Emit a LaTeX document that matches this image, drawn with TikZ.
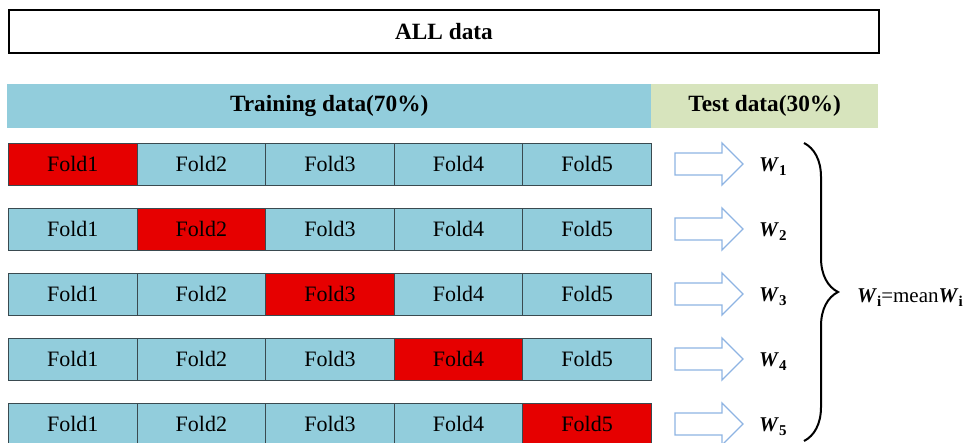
\documentclass[tikz,border=0pt]{standalone}
\usepackage{fontspec}
\setmainfont{Liberation Serif}
\usetikzlibrary{decorations.pathreplacing}
\definecolor{trainblue}{HTML}{92CDDC}
\definecolor{testgreen}{HTML}{D7E4BD}
\definecolor{foldred}{HTML}{E60000}
\definecolor{arrowblue}{HTML}{8EB4E3}
\definecolor{celledge}{HTML}{3A4A50}
\tikzset{
  cellbox/.style={draw=celledge, line width=0.9pt, minimum width=128.6pt, minimum height=42pt, inner sep=0pt, font=\fontsize{22}{25}\selectfont, anchor=north west},
  bandbox/.style={minimum height=44pt, inner sep=0pt, font=\fontsize{23.3}{26}\selectfont\bfseries, anchor=north west},
  blockarrow/.style={draw=arrowblue, line width=1.3pt, fill=white, line join=miter},
  wlabel/.style={font=\fontsize{21}{24}\selectfont, inner sep=0pt, anchor=base west}
}
\newcommand{\Wsub}[1]{\textbf{\textit{W}}\raisebox{-4.5pt}{\fontsize{15}{15}\selectfont\bfseries #1}}
\begin{document}
\begin{tikzpicture}[x=1pt,y=-1pt]
\useasboundingbox (0,0) rectangle (968,442);
% ALL data
\node[draw=black, line width=2pt, minimum width=870pt, minimum height=43pt, inner sep=0pt, anchor=north west, font=\fontsize{23.3}{26}\selectfont\bfseries] (all) at (8,9) {ALL data};
% bands
\node[bandbox, fill=trainblue, minimum width=644pt] (train) at (7,84) {Training data(70\%)};
\node[bandbox, fill=testgreen, minimum width=227pt] (test) at (651,84) {Test data(30\%)};
% rows
\foreach \r in {1,...,5}{
  \pgfmathsetmacro{\ytop}{143+65*(\r-1)}
  \pgfmathsetmacro{\yc}{\ytop+21}
  \foreach \c in {1,...,5}{
    \pgfmathsetmacro{\xl}{8+128.6*(\c-1)}
    \ifnum\c=\r
      \node[cellbox, fill=foldred] (f\r\c) at (\xl,\ytop) {Fold\c};
    \else
      \node[cellbox, fill=trainblue] (f\r\c) at (\xl,\ytop) {Fold\c};
    \fi
  }
  \draw[blockarrow] (675,\yc-11) -- (722,\yc-11) -- (722,\yc-21) -- (743,\yc) -- (722,\yc+21) -- (722,\yc+11) -- (675,\yc+11) -- cycle;
  \node[wlabel] (w\r) at (759,\yc+7) {\Wsub{\r}};
}
% brace
\coordinate (btop) at (804,143);
\coordinate (bbot) at (804,441);
\draw[line width=2pt, decorate, decoration={brace, amplitude=34pt, aspect=0.5}] (btop) -- (bbot);
\node[wlabel] (mean) at (857,302) {\Wsub{i}=mean\Wsub{i}};
\end{tikzpicture}
\end{document}
